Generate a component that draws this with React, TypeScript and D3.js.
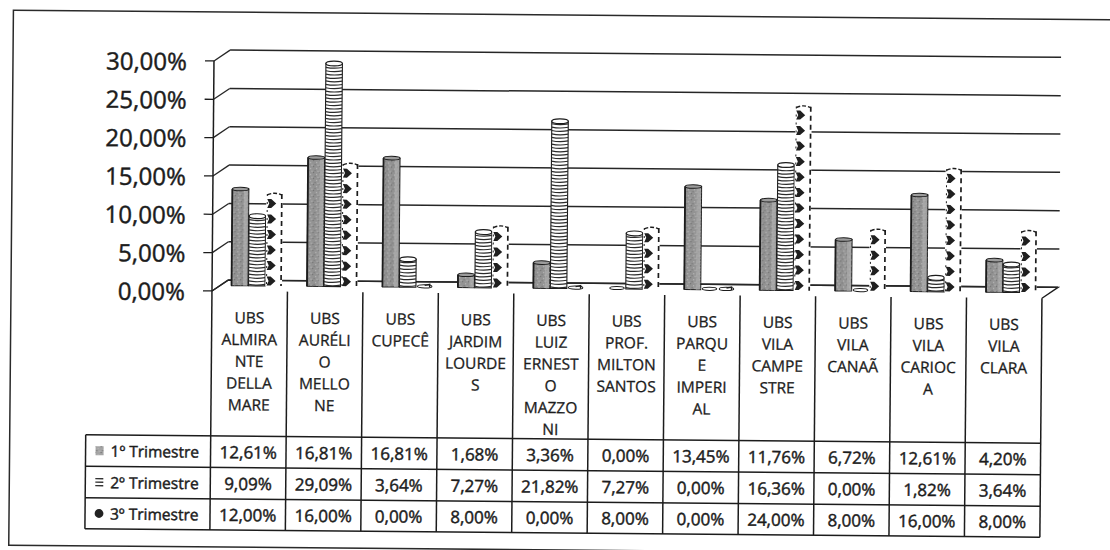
import React from "react";
import * as d3 from "d3";

const categoryLines: string[][] = [
  ["UBS", "ALMIRA", "NTE", "DELLA", "MARE"],
  ["UBS", "AURÉLI", "O", "MELLO", "NE"],
  ["UBS", "CUPECÊ"],
  ["UBS", "JARDIM", "LOURDE", "S"],
  ["UBS", "LUIZ", "ERNEST", "O", "MAZZO", "NI"],
  ["UBS", "PROF.", "MILTON", "SANTOS"],
  ["UBS", "PARQU", "E", "IMPERI", "AL"],
  ["UBS", "VILA", "CAMPE", "STRE"],
  ["UBS", "VILA", "CANAÃ"],
  ["UBS", "VILA", "CARIOC", "A"],
  ["UBS", "VILA", "CLARA"],
];
const categories = categoryLines.map((l) => l.join(" "));
const seriesNames = ["1º Trimestre", "2º Trimestre", "3º Trimestre"];
const trim1 = [12.61, 16.81, 16.81, 1.68, 3.36, 0.0, 13.45, 11.76, 6.72, 12.61, 4.2];
const trim2 = [9.09, 29.09, 3.64, 7.27, 21.82, 7.27, 0.0, 16.36, 0.0, 1.82, 3.64];
const trim3 = [12.0, 16.0, 0.0, 8.0, 0.0, 8.0, 0.0, 24.0, 8.0, 16.0, 8.0];
const seriesValues = [trim1, trim2, trim3];
const yTicks = [0, 5, 10, 15, 20, 25, 30];

const W = 1110;
const H = 550;
const FONT = "'Open Sans', 'Noto Sans', sans-serif";
const INK = "#1c1c1c";
const TXT_STROKE = 0.45;

const x0 = 212;
const x1 = 1042;
const depthX = 16;
const depthY = -11;
const midY = -5.5;

const xBand = d3.scaleBand<string>().domain(categories).range([x0, x1]).padding(0);
const sBand = d3.scaleBand<string>().domain(seriesNames).range([19.5, 70.5]).padding(0);
const y = d3.scaleLinear().domain([0, 30]).range([294, 64]);

const headerTop = 294;
const rowLines = [439, 470.5, 502, 533];
const legendLeft = 87;

const fmt = (v: number) => v.toFixed(2).replace(".", ",") + "%";

function Bar({ s, i, v }: { s: number; i: number; v: number }) {
  const bx = (xBand(categories[i]) as number) + (sBand(seriesNames[s]) as number);
  const w = sBand.bandwidth() - 0.5;
  const base = y(0) + midY;
  const top = y(v) + midY;
  const h = base - top;
  if (v === 0) {
    return (
      <g>
        <ellipse cx={bx + w / 2} cy={base - 1} rx={w / 2 - 1} ry={1.6} fill="#fff" stroke={INK} strokeWidth={1} />
        {s === 2 && <path d={`M${bx + w / 2} ${base - 2} l5 -1 l0 3`} fill="none" stroke={INK} strokeWidth={1.4} />}
      </g>
    );
  }
  if (s === 0) {
    return (
      <g>
        <rect x={bx} y={top} width={w} height={h} fill="#939393" stroke={INK} strokeWidth={1} />
        <rect x={bx} y={top} width={w} height={h} fill="url(#grain)" />
        <rect x={bx + w - 5} y={top} width={4} height={h} fill="#b3b3b3" opacity={0.6} />
        <line x1={bx} y1={top} x2={bx} y2={base} stroke={INK} strokeWidth={1.8} />
        <ellipse cx={bx + w / 2} cy={top} rx={w / 2} ry={1.8} fill="#9c9c9c" stroke={INK} strokeWidth={1} />
      </g>
    );
  }
  if (s === 1) {
    const stripes: number[] = [];
    for (let yy = base - 1.5; yy > top + 1.5; yy -= 3.4) stripes.push(yy);
    return (
      <g>
        <rect x={bx} y={top} width={w} height={h} fill="#fff" stroke={INK} strokeWidth={1.1} />
        {stripes.map((yy, k) => (
          <path key={k} d={`M${bx} ${yy} Q${bx + w / 2} ${yy + 1.6} ${bx + w} ${yy}`} fill="none" stroke="#2a2a2a" strokeWidth={1.2} />
        ))}
        <ellipse cx={bx + w / 2} cy={top} rx={w / 2} ry={2.4} fill="#fff" stroke={INK} strokeWidth={1.2} />
      </g>
    );
  }
  const marks: number[] = [];
  for (let yy = base - 5; yy > top + 4; yy -= 15.5) marks.push(yy);
  return (
    <g>
      <rect x={bx} y={top} width={w} height={h} fill="#fff" />
      <line x1={bx + w - 1} y1={top} x2={bx + w - 1} y2={base} stroke={INK} strokeWidth={1.7} strokeDasharray="5 4" />
      <line x1={bx + 1} y1={top} x2={bx + 1} y2={base} stroke={INK} strokeWidth={1} strokeDasharray="2 6" />
      {marks.map((cy, k) => (
        <path
          key={k}
          d={`M${bx + 1} ${cy - 4.5} L${bx + 5} ${cy - 4.5} L${bx + 10} ${cy} L${bx + 5} ${cy + 4.5} L${bx + 1} ${cy + 4.5} L${bx + 3} ${cy} Z`}
          fill="#1f1f1f"
        />
      ))}
      <path d={`M${bx + 1} ${top + 1} Q${bx + w / 2} ${top - 2.5} ${bx + w - 1} ${top + 1}`} fill="none" stroke={INK} strokeWidth={1.4} strokeDasharray="4 2" />
    </g>
  );
}

function LegendIcon({ s, cy }: { s: number; cy: number }) {
  const x = 97;
  if (s === 0) {
    return (
      <g>
        <rect x={x} y={cy - 4.5} width={8} height={9} fill="#a5a5a5" />
        <rect x={x} y={cy - 4.5} width={8} height={9} fill="url(#grain)" />
      </g>
    );
  }
  if (s === 1) {
    return (
      <g stroke="#333" strokeWidth={1.3}>
        <line x1={x} y1={cy - 3.5} x2={x + 8} y2={cy - 3.5} />
        <line x1={x} y1={cy} x2={x + 8} y2={cy} />
        <line x1={x} y1={cy + 3.5} x2={x + 8} y2={cy + 3.5} />
      </g>
    );
  }
  return <circle cx={x + 4} cy={cy} r={4.4} fill="#222" />;
}

export default function App() {
  const backX0 = x0 + depthX;
  const backX1 = 1059;
  const rowCenters = [0, 1, 2].map((r) => (rowLines[r] + rowLines[r + 1]) / 2);
  const headerLineStart = 320;
  const headerLineGap = 21.8;
  const textProps = { fontFamily: FONT, fill: INK, stroke: INK, strokeWidth: TXT_STROKE };

  return (
    <svg
      width={W}
      height={H}
      viewBox={`0 0 ${W} ${H}`}
      style={{ position: "absolute", left: 0, top: 0, background: "#fff" }}
    >
      <defs>
        <pattern id="grain" width="6" height="6" patternUnits="userSpaceOnUse">
          <rect x="0" y="0" width="1.2" height="1.2" fill="#6f6f6f" />
          <rect x="3" y="2" width="1.2" height="1.2" fill="#b8b8b8" />
          <rect x="1.5" y="4" width="1.2" height="1.2" fill="#777" />
          <rect x="4.5" y="4.8" width="1" height="1" fill="#c4c4c4" />
        </pattern>
      </defs>
      <g transform="rotate(0.5, 560, 290)">
        {/* outer frame */}
        <rect x={11} y={15} width={1130} height={535} fill="none" stroke="#2a2a2a" strokeWidth={1.5} />

        {/* floor */}
        <path
          d={`M${x0} ${y(0)} L${x0 + depthX} ${y(0) + depthY} L${x1 + depthX} ${y(0) + depthY} L${x1} ${y(0)}`}
          fill="none"
          stroke={INK}
          strokeWidth={1.4}
        />

        {/* gridlines on back wall and side wall diagonals */}
        {yTicks.map((t) => (
          <g key={t}>
            <line x1={backX0} y1={y(t) + depthY} x2={t === 0 ? x1 + depthX : backX1} y2={y(t) + depthY} stroke="#262626" strokeWidth={1.5} />
            <line x1={x0} y1={y(t)} x2={backX0} y2={y(t) + depthY} stroke="#262626" strokeWidth={1.3} />
            <line x1={x0 - 9} y1={y(t)} x2={x0} y2={y(t)} stroke={INK} strokeWidth={1.3} />
            <text x={185} y={y(t)} textAnchor="end" dominantBaseline="central" fontSize={24} {...textProps}>
              {fmt(t)}
            </text>
          </g>
        ))}
        {/* y axis */}
        <line x1={x0} y1={y(0)} x2={x0} y2={y(30)} stroke={INK} strokeWidth={1.5} />

        {/* bars */}
        {categories.map((c, i) => (
          <g key={c}>
            {seriesValues.map((vals, s) => (
              <Bar key={s} s={s} i={i} v={vals[i]} />
            ))}
          </g>
        ))}

        {/* data table */}
        <g stroke={INK} strokeWidth={1.5} fill="none">
          {categories.map((c) => (
            <line key={c} x1={xBand(c) as number} y1={headerTop} x2={xBand(c) as number} y2={rowLines[3]} />
          ))}
          <line x1={x1} y1={headerTop} x2={x1} y2={rowLines[3]} />
          <line x1={legendLeft} y1={rowLines[0]} x2={legendLeft} y2={rowLines[3]} />
          {rowLines.map((ry, k) => (
            <line key={k} x1={legendLeft} y1={ry} x2={x1} y2={ry} />
          ))}
        </g>

        {categoryLines.map((lines, i) => {
          const cx = (xBand(categories[i]) as number) + xBand.bandwidth() / 2;
          return (
            <g key={i}>
              {lines.map((ln, k) => (
                <text
                  key={k}
                  x={cx}
                  y={headerLineStart + k * headerLineGap}
                  textAnchor="middle"
                  dominantBaseline="central"
                  fontSize={15.5}
                  {...textProps}
                  strokeWidth={0.3}
                >
                  {ln}
                </text>
              ))}
            </g>
          );
        })}

        {seriesNames.map((name, s) => (
          <g key={name}>
            <LegendIcon s={s} cy={rowCenters[s]} />
            <text x={112} y={rowCenters[s]} dominantBaseline="central" fontSize={15.5} {...textProps}>
              {name}
            </text>
            {seriesValues[s].map((v, i) => (
              <text
                key={i}
                x={(xBand(categories[i]) as number) + xBand.bandwidth() / 2}
                y={rowCenters[s]}
                textAnchor="middle"
                dominantBaseline="central"
                fontSize={17}
                {...textProps}
              >
                {fmt(v)}
              </text>
            ))}
          </g>
        ))}
      </g>
    </svg>
  );
}
